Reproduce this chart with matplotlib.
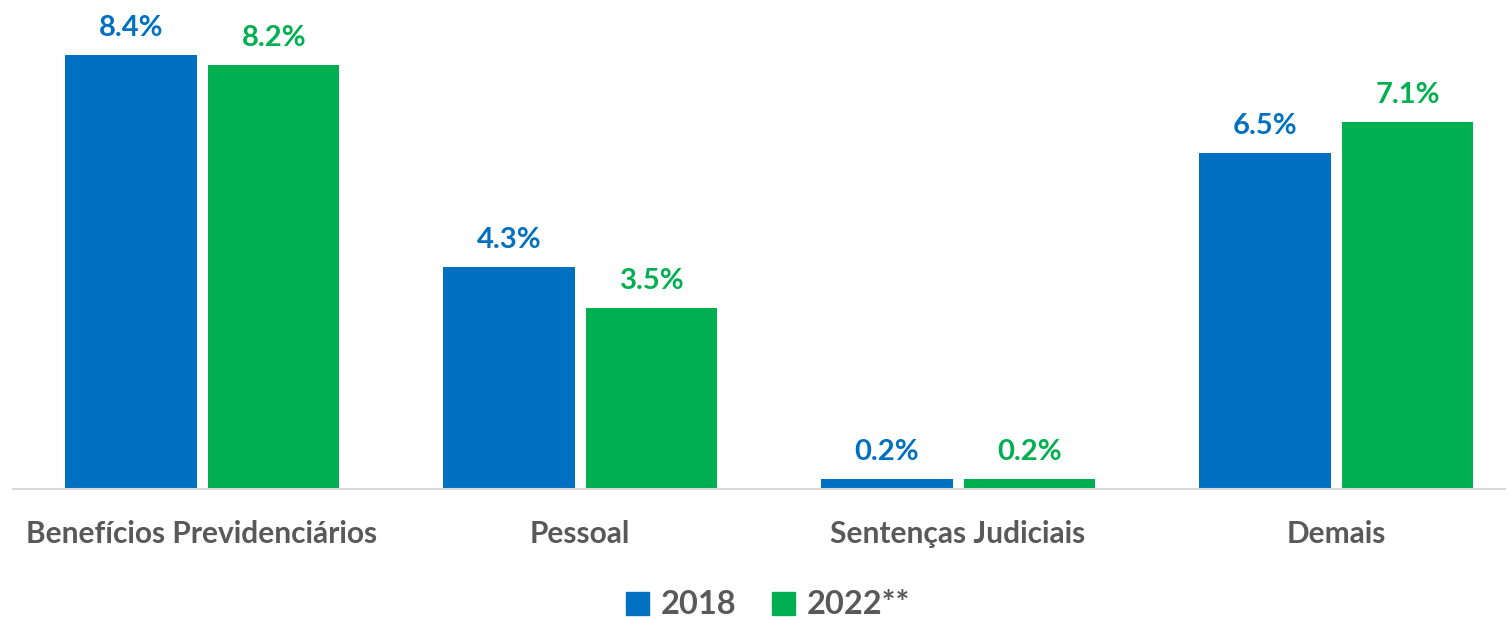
import numpy as np
import matplotlib
matplotlib.use("Agg")
from matplotlib import pyplot as plt
from matplotlib.patches import Patch

categories = ["Benefícios Previdenciários", "Pessoal", "Sentenças Judiciais", "Demais"]
series_names = ["2018", "2022**"]
vals_2018 = [8.4, 4.3, 0.2, 6.5]
vals_2022 = [8.2, 3.5, 0.2, 7.1]

blue = "#0070C0"
green = "#00B050"
gray = "#595959"

plt.rcParams["font.family"] = ["Lato", "DejaVu Sans"]

fig = plt.figure(figsize=(15.09, 6.2), dpi=100)
ax = fig.add_axes([13 / 1509, 131 / 620, 1492 / 1509, 489 / 620])

x = np.arange(len(categories))
w = 0.347
b1 = ax.bar(x - 0.188, vals_2018, w, color=blue)
b2 = ax.bar(x + 0.19, vals_2022, w, color=green)

for bars, vals, c in [(b1, vals_2018, blue), (b2, vals_2022, green)]:
    for r, v in zip(bars, vals):
        ax.annotate(f"{v:.1f}%", (r.get_x() + r.get_width() / 2, v),
                    xytext=(0, 10), textcoords="offset points",
                    ha="center", va="bottom", color=c,
                    fontsize=21, fontweight="bold")

ax.set_xlim(-0.5, 3.447)
ax.set_ylim(0, 9.46)
ax.set_yticks([])
ax.set_xticks(x)
ax.set_xticklabels(categories, fontsize=21.5, fontweight="bold", color=gray)
ax.tick_params(axis="x", length=0, pad=22)
for s in ["top", "right", "left"]:
    ax.spines[s].set_visible(False)
ax.spines["bottom"].set_color("#D9D9D9")
ax.spines["bottom"].set_linewidth(1.5)

handles = [Patch(color=blue), Patch(color=green)]
leg = fig.legend(handles, series_names, loc="center", bbox_to_anchor=(768 / 1509, 1 - 605 / 620),
                 ncol=2, frameon=False, handlelength=0.7, handleheight=0.7,
                 handletextpad=0.35, columnspacing=1.1,
                 prop={"size": 23.5, "weight": "bold"})
for t in leg.get_texts():
    t.set_color(gray)

fig.savefig("out.png", dpi=100)
